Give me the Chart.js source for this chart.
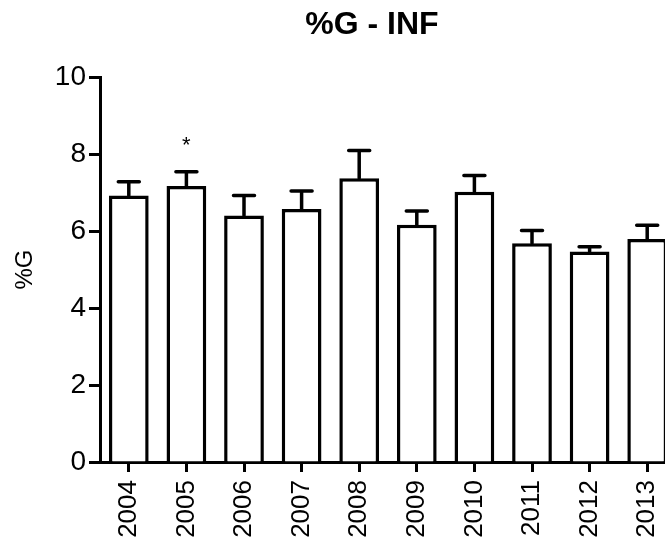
<!DOCTYPE html>
<html>
<head>
<meta charset="utf-8">
<script src="https://cdn.jsdelivr.net/npm/chart.js@4.4.0/dist/chart.umd.min.js"></script>
<style>
  html, body { margin: 0; padding: 0; background: #fff; overflow: hidden; }
  #wrap { width: 744px; height: 544px; }
</style>
</head>
<body>
<div id="wrap"><canvas id="c" width="744" height="544"></canvas></div>
<script>
const years = ['2004', '2005', '2006', '2007', '2008', '2009', '2010', '2011', '2012', '2013'];
const means = [6.92, 7.17, 6.40, 6.57, 7.37, 6.16, 7.02, 5.68, 5.47, 5.79];
const errors = [0.36, 0.37, 0.52, 0.47, 0.72, 0.36, 0.42, 0.33, 0.12, 0.36];
const markers = ['', '*', '', '', '', '', '', '', '', ''];
const yTicks = [0, 2, 4, 6, 8, 10];

const FONT = "'Liberation Sans', Arial, Helvetica, sans-serif";

const errorBarPlugin = {
  id: 'errorBars',
  afterLayout(chart) {
    // centre the title over the plotted region (as in the original figure)
    if (chart.titleBlock) { chart.titleBlock.left = 68; }
  },
  afterDatasetsDraw(chart) {
    const ctx = chart.ctx;
    const yScale = chart.scales.y;
    const meta = chart.getDatasetMeta(0);
    ctx.save();
    ctx.strokeStyle = '#000';
    ctx.fillStyle = '#000';
    ctx.lineWidth = 3.5;
    ctx.lineCap = 'round';
    meta.data.forEach((bar, i) => {
      const x = bar.x;
      const yBar = yScale.getPixelForValue(means[i]);
      const yTop = yScale.getPixelForValue(means[i] + errors[i]);
      ctx.beginPath();
      ctx.moveTo(x, yBar);
      ctx.lineTo(x, yTop);
      ctx.moveTo(x - 10.5, yTop);
      ctx.lineTo(x + 10.5, yTop);
      ctx.stroke();
      if (markers[i]) {
        ctx.font = '22px ' + FONT;
        ctx.textAlign = 'center';
        ctx.textBaseline = 'middle';
        ctx.fillText(markers[i], x, yTop - 26);
      }
    });
    ctx.restore();
  }
};

new Chart(document.getElementById('c'), {
  type: 'bar',
  data: {
    labels: years,
    datasets: [{
      data: means,
      backgroundColor: '#ffffff',
      borderColor: '#000000',
      borderWidth: 3.5,
      categoryPercentage: 1,
      barPercentage: 0.69
    }]
  },
  options: {
    responsive: false,
    animation: false,
    events: [],
    layout: { padding: { left: 0, right: 68, top: 0, bottom: 0 } },
    plugins: {
      legend: { display: false },
      tooltip: { enabled: false },
      title: {
        display: true,
        text: '%G - INF',
        color: '#000',
        font: { family: FONT, size: 32, weight: 'bold', lineHeight: 1.2 },
        padding: { top: 6, bottom: 32.6 }
      }
    },
    scales: {
      x: {
        offset: true,
        grid: {
          offset: false,
          drawOnChartArea: false,
          drawTicks: true,
          tickLength: 10,
          tickWidth: 3,
          tickColor: '#000'
        },
        border: { display: true, color: '#000', width: 3 },
        ticks: {
          color: '#000',
          font: { family: FONT, size: 26 },
          minRotation: 90,
          maxRotation: 90,
          padding: 8,
          autoSkip: false
        },
        afterFit(scale) { scale.height = 82; }
      },
      y: {
        min: 0,
        max: 10,
        afterBuildTicks(scale) { scale.ticks = yTicks.map(v => ({ value: v })); },
        grid: {
          drawOnChartArea: false,
          drawTicks: true,
          tickLength: 11,
          tickWidth: 3,
          tickColor: '#000'
        },
        border: { display: true, color: '#000', width: 3 },
        ticks: {
          color: '#000',
          font: { family: FONT, size: 28 },
          padding: 3
        },
        title: {
          display: true,
          text: '%G',
          color: '#000',
          font: { family: FONT, size: 24 },
          padding: { top: 11, bottom: 0 }
        },
        afterFit(scale) { scale.width = 100; }
      }
    }
  },
  plugins: [errorBarPlugin]
});
</script>
</body>
</html>
